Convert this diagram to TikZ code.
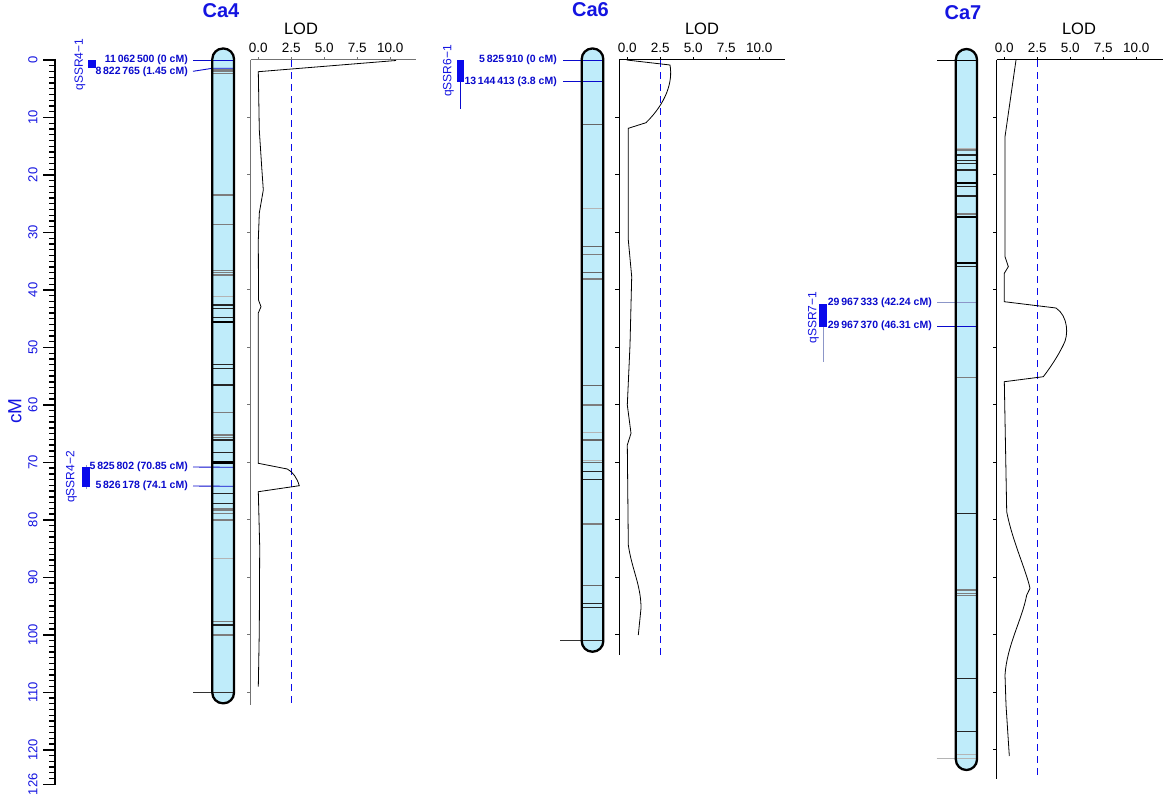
\documentclass[tikz,border=0pt]{standalone}
\usepackage{fontspec}
\setmainfont{Liberation Sans}
\definecolor{chromfill}{RGB}{191,236,250}
\definecolor{tblue}{RGB}{20,20,225}
\definecolor{mblue}{RGB}{10,10,205}
\definecolor{qfill}{RGB}{10,10,235}
\definecolor{thrblue}{RGB}{10,10,235}
\definecolor{lgray}{RGB}{180,180,180}
\definecolor{mgray}{RGB}{125,125,125}
\definecolor{wgray}{RGB}{140,150,200}
\newcommand\mylodaxis[7]{%
  % #1 axis x, #2 zero x, #3 bottom y, #4 right end x, #5 last tick (tens), #6 prefix, #7 axis colour
  \draw[line width=1pt, #7] (#1,60) -- (#4,60);
  \draw[line width=1pt, #7] (#1,60) -- (#1,#3);
  \foreach \i in {1,...,#5}{
    \draw[line width=1pt, #7] (#1,{60+57.48*\i}) -- ++(-4,0);
  }
  \foreach \vv/\lt [count=\k] in {0/0.0,2.5/2.5,5/5.0,7.5/7.5,10/10.0}{
    \draw[line width=1pt, #7] ({#2+13.2*\vv},60) -- ++(0,-3);
    \node[lodtick] (#6t\k) at ({#2+13.2*\vv},48) {\lt};
  }
}
% dashed threshold drawn as filled dashes: #1 x, #2 bottom y
\newcommand\mythr[2]{%
  \foreach \yy in {60,72,...,#2}{
    \fill[thrblue] ({#1-0.9},\yy) rectangle ({#1+0.9},{min(\yy+7,#2)});
  }
}
\begin{document}
\begin{tikzpicture}[x=1pt,y=-1pt,
  title/.style={font=\fontsize{20}{22}\selectfont\bfseries, text=tblue, inner sep=0},
  axlab/.style={font=\fontsize{13}{14}\selectfont, text=tblue, rotate=90, inner sep=0},
  mlab/.style={font=\fontsize{10.5}{12}\selectfont\bfseries, text=mblue, anchor=east, inner sep=0},
  qlab/.style={font=\fontsize{12}{13}\selectfont, text=tblue, rotate=90, inner sep=0},
  lodtick/.style={font=\fontsize{13.5}{15}\selectfont, inner sep=0, text=black},
  lodtitle/.style={font=\fontsize{16.5}{18}\selectfont, inner sep=0, text=black},
  lodc/.style={line width=0.8pt, black},
  mline/.style={draw=mblue, line width=0.9pt},
  chromshape/.style={rounded corners=10.6pt},
  mkb/.style={line width=1.2pt, black!85},
  mkg/.style={line width=1.1pt, mgray},
  mkl/.style={line width=1pt, lgray},
  whisk/.style={line width=0.8pt, wgray},
]
\fill[white] (0,0) rectangle (1166,797);
\useasboundingbox (0,0) rectangle (1166,797);

% ---------- LOD threshold lines ----------
\mythr{291.5}{705}
\mythr{660.5}{655}
\mythr{1037.5}{778}

% ---------- left cM axis ----------
\draw[line width=2pt] (55,59) -- (55,785);
\foreach \i in {0,...,126}{
  \draw[line width=1.3pt] (55,{60+5.748*\i}) -- ++(-6,0);
}
\foreach \i in {0,10,...,120,126}{
  \draw[line width=1.5pt] (55,{60+5.748*\i}) -- ++(-12,0);
  \node[axlab] (ax\i) at (33,{60+5.748*\i}) {\i};
}
\node[font=\fontsize{19}{21}\selectfont, text=tblue, rotate=90, inner sep=0] (cm) at (15,411) {cM};

% ---------- titles ----------
\node[title] (t4) at (221,11) {Ca4};
\node[title] (t6) at (590.5,10) {Ca6};
\node[title] (t7) at (963,12.5) {Ca7};

% ---------- LOD panels ----------
\mylodaxis{250.5}{258.3}{705}{416}{11}{a}{black!55}
\node[lodtitle] (lod4) at (301,29) {LOD};
\mylodaxis{619.3}{627.3}{655}{785}{10}{b}{black}
\node[lodtitle] (lod6) at (702,29) {LOD};
\mylodaxis{996.7}{1004.3}{779}{1163}{12}{c}{black}
\node[lodtitle] (lod7) at (1079,29) {LOD};

% ---------- Ca4 chromosome ----------
\fill[chromfill, chromshape] (212.3,48.5) rectangle (234,703.3);
\foreach \y in {70,71.7,73.3,195,224.3,270.7,272.3,275,412.7,435,437.7,508.3,510,513.3,520,621.7,635}
  \draw[mkg] (212.3,\y) -- (234,\y);
\foreach \y in {296.7,558.3}
  \draw[mkl] (212.3,\y) -- (234,\y);
\foreach \y in {305,308.3,317.7,364.3,368.3,385,440,452.3,493.3,503.3,625}
  \draw[mkb] (212.3,\y) -- (234,\y);
\foreach \y in {321.7,461.7,463.3}
  \draw[line width=1.8pt, black] (212.3,\y) -- (234,\y);
\draw[line width=0.8pt, black!80] (193,692.7) -- (234,692.7);
\coordinate (c41a) at (234,60);
\coordinate (c41b) at (234,68.3);
\coordinate (c42a) at (234,467.3);
\coordinate (c42b) at (234,486.3);
\node[mlab] (m41a) at (188,60) {11\,062\,500 (0 cM)};
\node[mlab] (m41b) at (188,71.3) {8\,822\,765 (1.45 cM)};
\node[mlab] (m42a) at (188,467) {5\,825\,802 (70.85 cM)};
\node[mlab] (m42b) at (188,486) {5\,826\,178 (74.1 cM)};
\draw[mline] (m41a.east) ++(5,0) -- (c41a);
\draw[mline] (m41b.east) ++(5,0) -- (212.3,68.3) -- (c41b);
\draw[mline] (m42a.east) ++(5,0) -- (c42a);
\draw[mline] (m42b.east) ++(5,0) -- (c42b);
\draw[draw=black, line width=2.3pt, chromshape] (212.3,48.5) rectangle (234,703.3);
% QTLs Ca4
\fill[qfill] (88.3,60) rectangle (96,68.3);
\node[qlab] (q41) at (80,64.5) {qSSR4−1};
\draw[whisk] (86,465) -- (86,489);
\fill[qfill] (81.7,467.3) rectangle (90,486.5);
\node[qlab] (q42) at (71.5,477) {qSSR4−2};
% LOD curve Ca4
\draw[lodc] (396,60.5) -- (258.3,71.7) -- (259.3,130) -- (261.7,167) -- (263.3,190) -- (259.3,213) -- (258.3,240) -- (258.5,300) -- (261,306.7) -- (258.3,313) -- (258.3,463.3) -- (287.3,469) .. controls (293,472) and (297,478) .. (299.3,485.7) -- (258.3,491.7) -- (259.7,546.7) -- (259.3,630) -- (258.3,686.7);

% ---------- Ca6 chromosome ----------
\fill[chromfill, chromshape] (581.7,48.5) rectangle (603.3,651.7);
\foreach \y in {124.3,246.7,272.3,385.7,440,462.7,585.7}
  \draw[line width=1.1pt, black!60] (581.7,\y) -- (603.3,\y);
\foreach \y in {254.3,279,405,524}
  \draw[mkg] (581.7,\y) -- (603.3,\y);
\foreach \y in {208.3,432.7,460.7}
  \draw[mkl] (581.7,\y) -- (603.3,\y);
\foreach \y in {471.7,479.3,603.3,607.3}
  \draw[mkb] (581.7,\y) -- (603.3,\y);
\draw[line width=0.8pt, black!80] (560,640) -- (603.3,640);
\coordinate (c61a) at (603.3,60);
\coordinate (c61b) at (603.3,81.8);
\node[mlab] (m61a) at (557,60) {5\,825\,910 (0 cM)};
\node[mlab] (m61b) at (557,81.8) {13\,144\,413 (3.8 cM)};
\draw[mline] (m61a.east) ++(6,0) -- (c61a);
\draw[mline] (m61b.east) ++(6,0) -- (c61b);
\draw[draw=black, line width=2.3pt, chromshape] (581.7,48.5) rectangle (603.3,651.7);
\draw[line width=0.9pt, mblue] (460.5,81.7) -- (460.5,109.3);
\fill[qfill] (456.7,60) rectangle (464.3,81.8);
\node[qlab] (q61) at (448.5,71) {qSSR6−1};
% LOD curve Ca6
\draw[lodc] (626.7,60) -- (670,65) .. controls (673,82) and (666,103) .. (646,122.7) -- (628.3,128.3) -- (628.3,240) -- (631.7,276.7) -- (630,345) -- (627.3,405) -- (631,433.3) -- (627.3,445) -- (628.3,545) .. controls (632,570) and (641,585) .. (641,608.3) -- (638.3,635);

% ---------- Ca7 chromosome ----------
\fill[chromfill, chromshape] (955.8,49) rectangle (977,770);
\foreach \y in {150,214,377.3,590,593.3,595.7}
  \draw[mkg] (955.8,\y) -- (977,\y);
\foreach \y in {148.3,754.3}
  \draw[mkl] (955.8,\y) -- (977,\y);
\foreach \y in {155,160.7,163.3,170,186.7,196,266.7,513.3,678.3,731.7}
  \draw[mkb] (955.8,\y) -- (977,\y);
\foreach \y in {183.3,216.7,263.3}
  \draw[line width=1.8pt, black] (955.8,\y) -- (977,\y);
\draw[line width=0.9pt, black] (937,60) -- (977,60);
\draw[line width=1pt, lgray] (936.7,758.3) -- (977,758.3);
\coordinate (c71a) at (977,302.8);
\coordinate (c71b) at (977,326.2);
\node[mlab] (m71a) at (932,302.8) {29\,967\,333 (42.24 cM)};
\node[mlab] (m71b) at (932,326.2) {29\,967\,370 (46.31 cM)};
\draw[line width=0.9pt, wgray] (m71a.east) ++(5,0) -- (c71a);
\draw[mline] (m71b.east) ++(5,0) -- (c71b);
\draw[draw=black, line width=2.3pt, chromshape] (955.8,49) rectangle (977,770);
\draw[whisk] (823,326.5) -- (823,361.7);
\fill[qfill] (819.3,303.5) rectangle (826.7,326.5);
\node[qlab] (q71) at (813.5,317.5) {qSSR7−1};
% LOD curve Ca7
\draw[lodc] (1016,60) -- (1005,136.7) -- (1005,256.7) -- (1008.3,266.7) -- (1004.3,273.3) -- (1004.3,301.7) -- (1056,308) .. controls (1068,316) and (1069,335) .. (1063.3,345) .. controls (1058,356) and (1050,368) .. (1043.3,376.7) -- (1004.3,381.7) -- (1006.7,511.7) .. controls (1012,540) and (1026,570) .. (1030,588.3) -- (1026.7,595) .. controls (1022,620) and (1007,645) .. (1005,675) -- (1006,705) -- (1009.3,756);
\end{tikzpicture}
\end{document}
